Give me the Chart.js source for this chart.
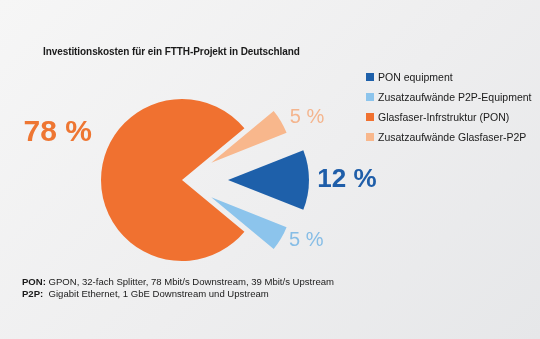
<!DOCTYPE html>
<html lang="de">
<head>
<meta charset="utf-8">
<title>Investitionskosten FTTH</title>
<script src="https://cdn.jsdelivr.net/npm/chart.js@4.4.1/dist/chart.umd.min.js"></script>
<style>
  html, body { margin: 0; padding: 0; }
  body {
    width: 540px; height: 339px; overflow: hidden; position: relative;
    background: linear-gradient(135deg, #f6f6f6 0%, #eeeeef 55%, #e6e7e9 100%);
    font-family: "Liberation Sans", Arial, sans-serif; color: #1a1a1a;
  }
  #chart { position: absolute; left: 0; top: 0; }
  .title { position: absolute; left: 43px; top: 46px; font-size: 10px; font-weight: bold; letter-spacing: -0.08px; }
  #legend { position: absolute; left: 366px; top: 69px; font-size: 10.5px; }
  #legend div { height: 20px; line-height: 16px; white-space: nowrap; }
  #legend span { display: inline-block; width: 8px; height: 8px; margin-right: 4px; }
  .notes { position: absolute; left: 22px; top: 276px; font-size: 9.55px; line-height: 11.5px; white-space: nowrap; }
</style>
</head>
<body>
<canvas id="chart" width="540" height="339"></canvas>
<div class="title">Investitionskosten für ein FTTH-Projekt in Deutschland</div>
<div id="legend"></div>
<div class="notes">
  <div><b>PON:</b> GPON, 32-fach Splitter, 78 Mbit/s Downstream, 39 Mbit/s Upstream</div>
  <div><b>P2P:</b>&nbsp; Gigabit Ethernet, 1 GbE Downstream und Upstream</div>
</div>
<script>
var categories = ['PON equipment', 'Zusatzaufwände P2P-Equipment', 'Glasfaser-Infrstruktur (PON)', 'Zusatzaufwände Glasfaser-P2P'];
var shares = [12, 5, 78, 5];
var sliceColors = ['#1e60aa', '#8cc4ec', '#f07130', '#f8b78c'];
var labelColors = ['#1f5ea9', '#86bde6', '#ee7632', '#f4b58e'];

(function () {
  var legendEl = document.getElementById('legend');
  categories.forEach(function (name, i) {
    var row = document.createElement('div');
    var box = document.createElement('span');
    box.style.background = sliceColors[i];
    row.appendChild(box);
    row.appendChild(document.createTextNode(name));
    legendEl.appendChild(row);
  });

  // how far each slice is pulled out of the pie (px). Done by moving the arc
  // centre, since the built-in offset also grows the slice radius.
  var explode = [46, 34, 0, 34];

  // label placement: distance from pie centre and angle shift from slice middle
  var labelDist = [165, 138, 133, 140];
  var labelShift = [0, -4.8, 20.9, 3.9];
  var labelFont = ['bold 26px "Liberation Sans", Arial', '20px "Liberation Sans", Arial', 'bold 30px "Liberation Sans", Arial', '20px "Liberation Sans", Arial'];

  var explodeSlices = {
    id: 'explodeSlices',
    afterDatasetUpdate: function (chart, args) {
      args.meta.data.forEach(function (arc, i) {
        var mid = (arc.startAngle + arc.endAngle) / 2;
        arc.$cx = arc.x;
        arc.$cy = arc.y;
        arc.x += Math.cos(mid) * explode[i];
        arc.y += Math.sin(mid) * explode[i];
      });
    }
  };

  var percentLabels = {
    id: 'percentLabels',
    afterDatasetsDraw: function (chart) {
      var ctx = chart.ctx;
      var meta = chart.getDatasetMeta(0);
      ctx.save();
      ctx.textAlign = 'center';
      ctx.textBaseline = 'middle';
      meta.data.forEach(function (arc, i) {
        var mid = (arc.startAngle + arc.endAngle) / 2 + labelShift[i] * Math.PI / 180;
        ctx.font = labelFont[i];
        ctx.fillStyle = labelColors[i];
        ctx.fillText(shares[i] + ' %', arc.$cx + Math.cos(mid) * labelDist[i], arc.$cy + Math.sin(mid) * labelDist[i]);
      });
      ctx.restore();
    }
  };

  new Chart(document.getElementById('chart').getContext('2d'), {
    type: 'pie',
    data: {
      labels: categories,
      datasets: [{
        data: shares,
        backgroundColor: sliceColors,
        borderWidth: 0
      }]
    },
    options: {
      responsive: false,
      animation: false,
      events: [],
      rotation: 90 - shares[0] * 1.8,
      radius: 81,
      layout: { padding: { left: 0, right: 176, top: 21, bottom: 0 } },
      plugins: { legend: { display: false }, tooltip: { enabled: false } }
    },
    plugins: [explodeSlices, percentLabels]
  });
})();
</script>
</body>
</html>
